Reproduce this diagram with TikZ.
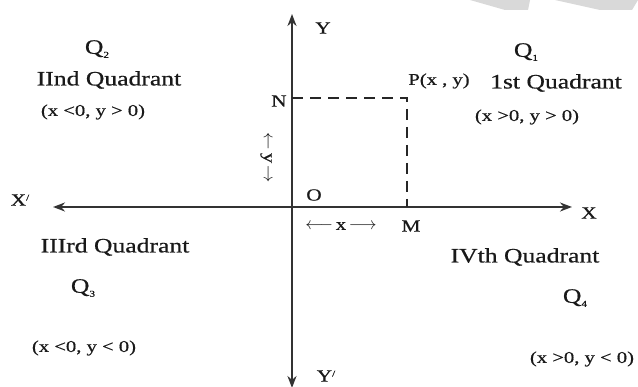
\documentclass[tikz,border=0pt]{standalone}
\usepackage{fontspec}
\setmainfont[FakeStretch=1.25,FakeBold=0.6]{Liberation Serif}
\usetikzlibrary{arrows.meta}
\begin{document}
\begin{tikzpicture}[x=1pt,y=-1pt,
  axis/.style={line width=2.4pt,draw=black!80,-{Stealth[length=12pt,width=9pt]}},
  dashline/.style={line width=2.4pt,draw=black!85,dash pattern=on 11pt off 7pt},
  big/.style={font=\fontsize{20.5}{23}\selectfont,text=black!90,inner sep=0pt},
  small/.style={font=\fontsize{16.5}{19}\selectfont,text=black!90,inner sep=0pt},
  lab/.style={font=\fontsize{17}{19}\selectfont,text=black!90,inner sep=0pt},
  sub/.style={}]
\newcommand{\qsub}[1]{Q\raisebox{-4pt}{\fontsize{9}{10}\selectfont #1}}
\useasboundingbox (0,0) rectangle (638,387);
\fill[white] (0,0) rectangle (638,387);
% watermark stripes
\fill[black!15] (470,0) -- (530,0) -- (528,10) -- (505,10) -- cycle;
\fill[black!15] (555,0) -- (638,0) -- (632,10) -- (600,10) -- cycle;
% named points
\coordinate (O) at (292,207);
\coordinate (Ytop) at (292,14);
\coordinate (Ybot) at (292,388);
\coordinate (Xl) at (53,207);
\coordinate (Xr) at (572,207);
\coordinate (Np) at (292,98);
\coordinate (Pp) at (407,98);
\coordinate (Mp) at (407,207);
% axes
\draw[axis] (O) -- (Ytop);
\draw[axis] (O) -- (Ybot);
\draw[axis] (O) -- (Xl);
\draw[axis] (O) -- (Xr);
% dashed lines
\draw[dashline] (Np) -- (Pp) -- (Mp);
% axis labels
\node[lab] (Y) at (323,28) {Y};
\node[lab] (X) at (589,213) {X};
\node[lab] (Xp) at (20,200) {X\raisebox{5pt}{\fontsize{9}{10}\selectfont /}};
\node[lab] (Yp) at (326,376) {Y\raisebox{5pt}{\fontsize{9}{10}\selectfont /}};
\node[lab] (N) at (279,101) {N};
\node[lab] (Ol) at (314,195) {O};
\node[lab] (M) at (411,226) {M};
\node[small] (P) at (439,81) {P(x , y)};
\node[small] (xarr) at (341,226) {$\longleftarrow$\,x\,$\longrightarrow$};
\node[small,rotate=-90] (yarr) at (266,158) {$\leftarrow$\,y\,$\rightarrow$};
% quadrants
\node[big] (Q2) at (97,49) {\qsub{2}};
\node[big] (II) at (109,80) {IInd Quadrant};
\node[small] (c2) at (93,112) {(x <0, y > 0)};
\node[big] (Q1) at (526,52) {\qsub{1}};
\node[big] (I) at (556,83) {1st Quadrant};
\node[small] (c1) at (527,117) {(x >0, y > 0)};
\node[big] (III) at (115,247) {IIIrd Quadrant};
\node[big] (Q3) at (83,288) {\qsub{3}};
\node[small] (c3) at (84,348) {(x <0, y < 0)};
\node[big] (IV) at (525,257) {IVth Quadrant};
\node[big] (Q4) at (575,298) {\qsub{4}};
\node[small] (c4) at (582,359) {(x >0, y < 0)};
\end{tikzpicture}
\end{document}
